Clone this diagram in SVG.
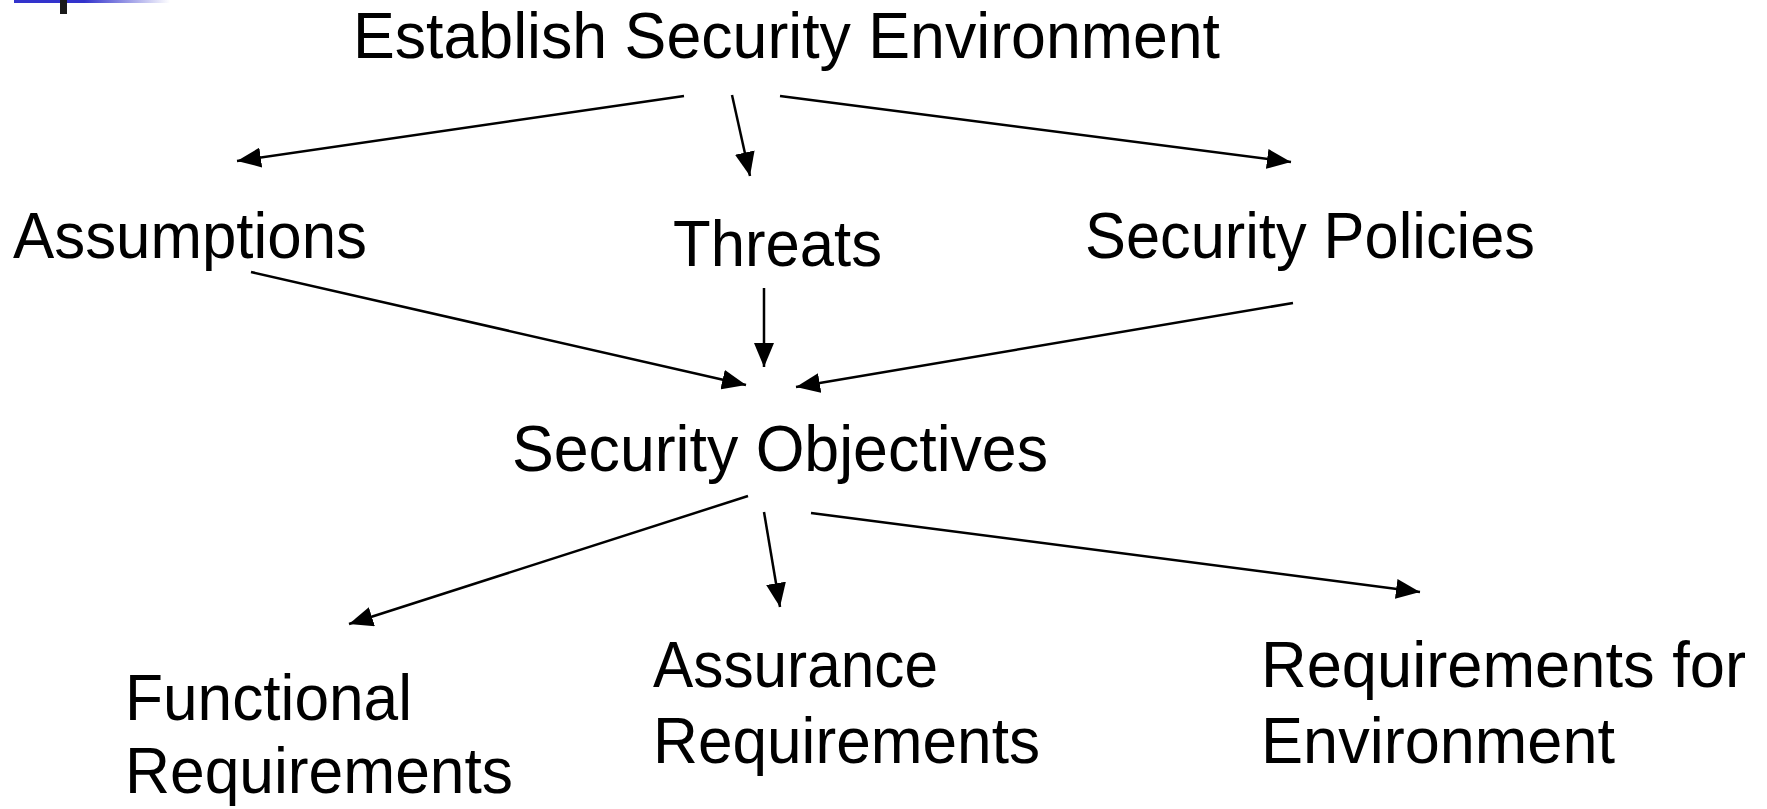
<svg xmlns="http://www.w3.org/2000/svg" width="1767" height="809" viewBox="0 0 1767 809">
  <defs>
    <linearGradient id="barFade" x1="0" y1="0" x2="1" y2="0">
      <stop offset="0" stop-color="#3333cc"/>
      <stop offset="0.45" stop-color="#3333cc"/>
      <stop offset="1" stop-color="#ffffff"/>
    </linearGradient>
    <marker id="arrow" viewBox="0 0 24 20" refX="24" refY="10" markerWidth="24" markerHeight="20" markerUnits="userSpaceOnUse" orient="auto">
      <path d="M0,0 L24,10 L0,20 Z" fill="#000"/>
    </marker>
    <style>
      .label { font-family: "Liberation Sans", Arial, sans-serif; font-size: 65px; fill: #000; }
      .link { stroke: #000; stroke-width: 2.5; fill: none; marker-end: url(#arrow); }
    </style>
  </defs>

  <rect width="1767" height="809" fill="#fff"/>

  <!-- title bar accent -->
  <rect x="14" y="0" width="156" height="3" fill="url(#barFade)"/>
  <rect x="60" y="0" width="7" height="14" fill="#1a1a1a"/>

  <g id="connectors">
    <line class="link" x1="684" y1="96" x2="237" y2="161"/>
    <line class="link" x1="732" y1="95" x2="750" y2="176"/>
    <line class="link" x1="780" y1="96" x2="1291" y2="162"/>
    <line class="link" x1="251" y1="272" x2="746" y2="385"/>
    <line class="link" x1="764" y1="288" x2="764" y2="367"/>
    <line class="link" x1="1293" y1="303" x2="796" y2="387"/>
    <line class="link" x1="748" y1="496" x2="349" y2="624"/>
    <line class="link" x1="764" y1="512" x2="780" y2="607"/>
    <line class="link" x1="811" y1="513" x2="1420" y2="592"/>
  </g>

  <g id="environment"><text class="label" x="353" y="58" textLength="867" lengthAdjust="spacingAndGlyphs">Establish Security Environment</text></g>
  <g id="assumptions"><text class="label" x="13" y="258" textLength="354" lengthAdjust="spacingAndGlyphs">Assumptions</text></g>
  <g id="threats"><text class="label" x="673" y="266" textLength="209" lengthAdjust="spacingAndGlyphs">Threats</text></g>
  <g id="policies"><text class="label" x="1085" y="258" textLength="450" lengthAdjust="spacingAndGlyphs">Security Policies</text></g>
  <g id="objectives"><text class="label" x="512" y="471" textLength="536" lengthAdjust="spacingAndGlyphs">Security Objectives</text></g>
  <g id="functional">
    <text class="label" x="125" y="720" textLength="287" lengthAdjust="spacingAndGlyphs">Functional</text>
    <text class="label" x="125" y="793" textLength="388" lengthAdjust="spacingAndGlyphs">Requirements</text>
  </g>
  <g id="assurance">
    <text class="label" x="653" y="687" textLength="285" lengthAdjust="spacingAndGlyphs">Assurance</text>
    <text class="label" x="653" y="763" textLength="387" lengthAdjust="spacingAndGlyphs">Requirements</text>
  </g>
  <g id="environment-req">
    <text class="label" x="1261" y="687" textLength="485" lengthAdjust="spacingAndGlyphs">Requirements for</text>
    <text class="label" x="1261" y="763" textLength="354" lengthAdjust="spacingAndGlyphs">Environment</text>
  </g>
</svg>
